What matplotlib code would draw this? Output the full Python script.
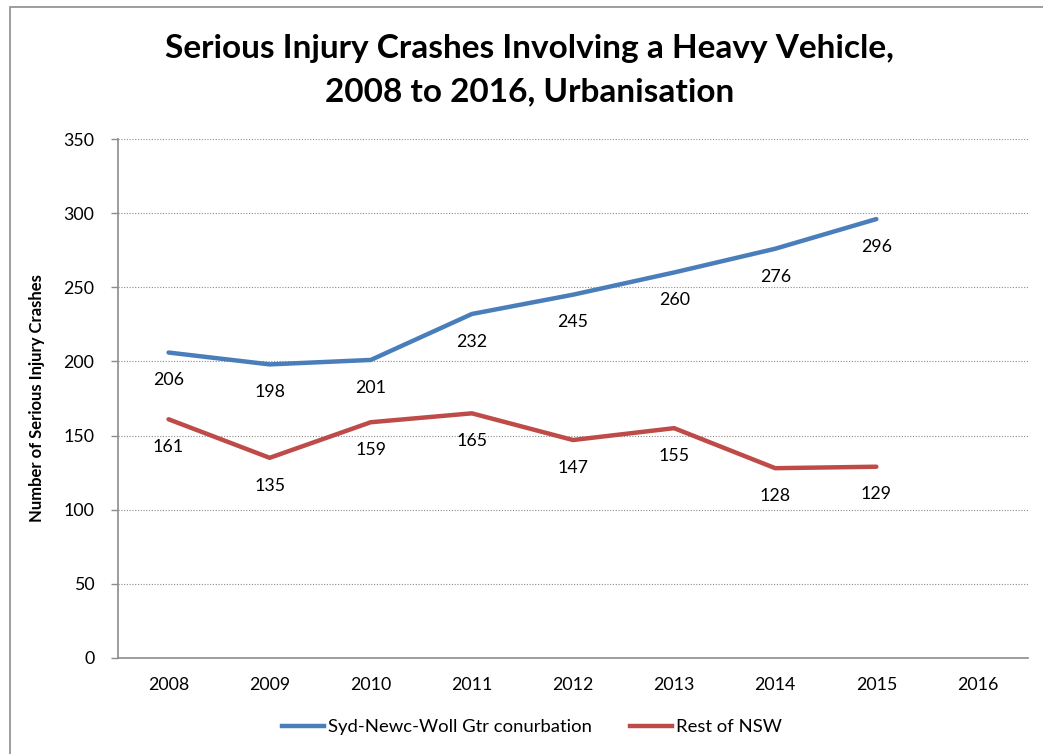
import matplotlib
matplotlib.use("Agg")
import matplotlib.pyplot as plt
from matplotlib.patches import Rectangle
from matplotlib.lines import Line2D

plt.rcParams['font.family'] = ['Lato', 'DejaVu Sans']

years = ['2008', '2009', '2010', '2011', '2012', '2013', '2014', '2015', '2016']
syd_newc_woll = [206, 198, 201, 232, 245, 260, 276, 296]
rest_of_nsw = [161, 135, 159, 165, 147, 155, 128, 129]
series_names = ['Syd-Newc-Woll Gtr conurbation', 'Rest of NSW']
colors = ['#4A7EBB', '#BE4B48']

fig = plt.figure(figsize=(10.43, 7.54), dpi=100)
fig.patches.append(Rectangle((10/1043, -0.1), 1.2, 1 - 7/754 + 0.1, transform=fig.transFigure,
                             fill=False, edgecolor='#8c8c8c', linewidth=1.2))

ax = fig.add_axes([118/1043, 1 - 658/754, (1028-118)/1043, (658-139)/754])
x = list(range(len(years)))

for vals, c in zip([syd_newc_woll, rest_of_nsw], colors):
    xs = x[:len(vals)]
    ax.plot(xs, vals, color=c, linewidth=3.2, solid_capstyle='round')
    for xi, v in zip(xs, vals):
        ax.annotate(str(v), (xi, v), xytext=(0, -20), textcoords='offset points',
                    ha='center', va='center', fontsize=12.8, color='black')

ax.set_xlim(-0.5, len(years) - 0.5)
ax.set_ylim(0, 350)
ax.set_yticks(range(0, 351, 50))
ax.set_xticks(x)
ax.set_xticklabels(years)
ax.tick_params(axis='x', length=0, pad=14, labelsize=12.8)
ax.tick_params(axis='y', length=5, width=1, color='#8c8c8c', pad=12, labelsize=12.8)
ax.yaxis.grid(True, linestyle=(0, (1, 1.5)), color='#8c8c8c', linewidth=0.8)
ax.set_axisbelow(True)
for s in ['top', 'right']:
    ax.spines[s].set_visible(False)
for s in ['left', 'bottom']:
    ax.spines[s].set_color('#8c8c8c')
    ax.spines[s].set_linewidth(1.2)

ax.set_ylabel('Number of Serious Injury Crashes', fontsize=12, fontweight='bold', labelpad=13)

fig.text(0.508, 1 - 70/754, 'Serious Injury Crashes Involving a Heavy Vehicle,\n2008 to 2016, Urbanisation',
         ha='center', va='center', fontsize=24, fontweight='bold', linespacing=1.6)

handles = [Line2D([0], [0], color=c, linewidth=3.2) for c in colors]
fig.legend(handles, series_names, loc='center', bbox_to_anchor=(532/1043, 1 - 727/754), ncol=2,
           frameon=False, fontsize=13.3, handlelength=2.27, handletextpad=0.2, columnspacing=2.1)

fig.savefig('out.png', dpi=100)
